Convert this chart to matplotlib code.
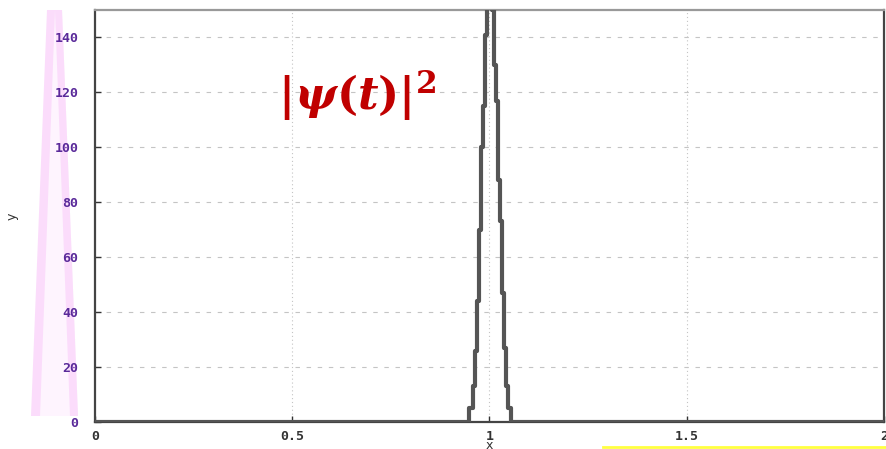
import matplotlib
matplotlib.use("Agg")
import matplotlib.pyplot as plt
from matplotlib.patches import Polygon

# |psi(t)|^2 samples around the peak at x = 1
x_psi = [0.0, 0.943, 0.955, 0.96, 0.965, 0.97, 0.975, 0.98, 0.985, 0.99,
         0.995, 1.0, 1.005, 1.01, 1.015, 1.02, 1.025, 1.03, 1.035, 1.04,
         1.045, 1.05, 1.06, 2.0]
y_psi = [0, 0, 5, 13, 26, 44, 70, 100, 115, 141,
         175, 200, 175, 150, 130, 117, 88, 73, 47, 27,
         13, 5, 0, 0]

# second (purple) trace, zero on the left part
x_base = [0.0, 0.9]
y_base = [0, 0]

xticks = [0, 0.5, 1, 1.5, 2]
xtick_labels = ["0", "0.5", "1", "1.5", "2"]
yticks = [0, 20, 40, 60, 80, 100, 120, 140]

plt.rcParams["mathtext.fontset"] = "custom"
plt.rcParams["mathtext.it"] = "DejaVu Serif:italic:bold"
plt.rcParams["mathtext.rm"] = "DejaVu Serif:bold"
plt.rcParams["mathtext.bf"] = "DejaVu Serif:bold"

W, H = 886, 449
fig = plt.figure(figsize=(W / 100, H / 100), dpi=100)
ax = fig.add_axes([95 / W, 27 / H, 789 / W, 412 / H])


def px(x, y):
    # pixel (from top-left) -> figure fraction
    return (x / W, 1 - y / H)


# faint pink ghost spike at the far left (behind everything)
ghost = Polygon([px(48, 10), px(62, 10), px(78, 416), px(32, 416)],
                closed=True, transform=fig.transFigure,
                facecolor="#fef4fe", edgecolor="none", zorder=-5)
band_l = Polygon([px(47, 10), px(55, 10), px(40, 416), px(31, 416)],
                 closed=True, transform=fig.transFigure,
                 facecolor="#fbdcfb", edgecolor="none", zorder=-4)
band_r = Polygon([px(55, 10), px(62, 10), px(78, 416), px(70, 416)],
                 closed=True, transform=fig.transFigure,
                 facecolor="#fbdcfb", edgecolor="none", zorder=-4)
fig.patches.extend([ghost, band_l, band_r])
fig.add_artist(plt.Line2D([603 / W, 1.0], [2 / H, 2 / H],
                          transform=fig.transFigure, color="#ffff40", lw=2))

ax.plot(x_base, y_base, color="#7040b0", lw=2.0, zorder=3)
ax.plot(x_psi, y_psi, color="#555555", lw=3.0, drawstyle="steps-mid",
        zorder=4)

ax.set_xlim(0, 2)
ax.set_ylim(0, 150)
ax.set_xticks(xticks)
ax.set_xticklabels(xtick_labels)
ax.set_yticks(yticks)

for y in yticks[1:]:
    ax.axhline(y, color="#c4c4c4", lw=0.8, ls=(0, (4, 6)), zorder=1)
for x in xticks[1:-1]:
    ax.axvline(x, color="#c4c4c4", lw=0.8, ls=(0, (1, 2.5)), zorder=1)

ax.tick_params(direction="in", length=4, width=1, colors="#333333",
               labelsize=9.5)
for lab in ax.get_yticklabels():
    lab.set_color("#5a2a9a")
    lab.set_fontweight("bold")
    lab.set_family("DejaVu Sans Mono")
for lab in ax.get_xticklabels():
    lab.set_fontweight("bold")
    lab.set_family("DejaVu Sans Mono")
    lab.set_color("#333333")
ax.tick_params(axis="y", pad=12)
ax.tick_params(axis="x", pad=6)

for side in ["left", "right", "bottom"]:
    ax.spines[side].set_color("#444444")
    ax.spines[side].set_linewidth(1.6)
ax.spines["top"].set_color("#999999")
ax.spines["top"].set_linewidth(1.6)

ax.set_xlabel("x", fontsize=9, labelpad=-3, color="#333333")
ax.set_ylabel("y", fontsize=9, labelpad=26, color="#333333")

ax.text(0.865, 119, r"$|\psi(t)|^2$", color="#c00000", fontsize=32,
        ha="right", va="center")

fig.savefig("out.png", dpi=100)
